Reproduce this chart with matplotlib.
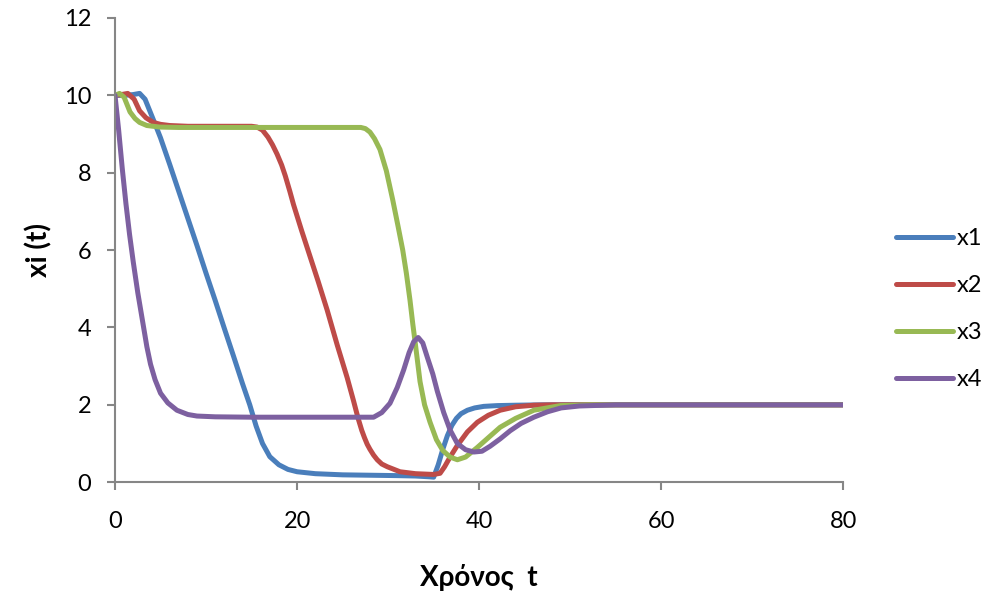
import matplotlib
matplotlib.use("Agg")
import matplotlib.pyplot as plt

plt.rcParams["font.family"] = ["Lato", "Noto Sans", "DejaVu Sans"]

# x1 (blue)
t1 = [0, 1, 2, 2.7, 3.3, 3.9, 4.5, 5, 6, 7, 8, 9, 10, 11, 12, 13, 14,
      14.8, 15.5, 16.2, 17, 18, 19, 20, 22, 25, 28, 31, 33, 34.5, 35,
      35.5, 36, 36.5, 37, 37.5, 38, 38.7, 39.5, 40.5, 42, 44, 47, 50,
      60, 70, 80]
x1 = [10, 10, 10.02, 10.05, 9.9, 9.55, 9.2, 8.9, 8.22, 7.52, 6.82, 6.12,
      5.4, 4.7, 3.98, 3.27, 2.55, 2.0, 1.45, 1.0, 0.66, 0.45, 0.33, 0.27,
      0.22, 0.19, 0.18, 0.17, 0.16, 0.14, 0.13, 0.45, 0.85, 1.2, 1.47,
      1.65, 1.77, 1.86, 1.92, 1.96, 1.98, 1.99, 2.0, 2.0, 2.0, 2.0, 2.0]

# x2 (red)
t2 = [0, 0.7, 1.4, 2.1, 2.7, 3.4, 4.2, 5, 6, 8, 10, 12, 14, 15, 15.6,
      16.2, 16.8, 17.3, 17.8, 18.3, 18.7, 19.2, 19.6, 20.5, 21.4, 22.3,
      23.3, 24.4, 25.5, 26.2, 26.7, 27.1, 27.4, 27.7, 28, 28.4, 28.8,
      29.3, 29.9, 31.3, 33, 35, 35.7, 36.2, 36.8, 37.6, 38.7, 39.8, 41,
      42.3, 44, 46, 48, 50, 55, 60, 70, 80]
x2 = [10, 10.02, 10.05, 9.9, 9.6, 9.42, 9.3, 9.25, 9.22, 9.2, 9.2, 9.2,
      9.2, 9.2, 9.18, 9.1, 8.92, 8.72, 8.48, 8.2, 7.92, 7.52, 7.18, 6.5,
      5.85, 5.2, 4.45, 3.55, 2.7, 2.1, 1.65, 1.34, 1.15, 0.98, 0.85,
      0.7, 0.58, 0.47, 0.4, 0.27, 0.22, 0.2, 0.23, 0.4, 0.65, 0.95, 1.3,
      1.55, 1.73, 1.86, 1.95, 1.99, 2.0, 2.0, 2.0, 2.0, 2.0, 2.0]

# x3 (green)
t3 = [0, 0.5, 1, 1.65, 2.2, 2.7, 3.5, 4.9, 7, 10, 15, 20, 25, 27, 27.5,
      28, 28.5, 29.1, 29.8, 30.5, 31.1, 31.6, 32.0, 32.4, 32.7, 33.0,
      33.5, 34, 34.6, 35.3, 36, 36.8, 37.6, 38.5, 39.8, 41, 42.3, 44, 46,
      48.9, 52, 60, 70, 80]
x3 = [10, 10.05, 9.95, 9.57, 9.4, 9.3, 9.22, 9.18, 9.17, 9.17, 9.17,
      9.17, 9.17, 9.17, 9.14, 9.05, 8.88, 8.6, 8.05, 7.3, 6.6, 6.0, 5.4,
      4.7, 4.1, 3.55, 2.6, 2.0, 1.55, 1.1, 0.82, 0.65, 0.58, 0.65, 0.9,
      1.15, 1.42, 1.65, 1.86, 1.98, 2.0, 2.0, 2.0, 2.0]

# x4 (purple)
t4 = [0, 0.4, 0.8, 1.2, 1.6, 2.0, 2.5, 3.0, 3.5, 3.9, 4.4, 5, 5.8, 6.8,
      8, 9, 11, 15, 20, 25, 28.4, 29.3, 30.2, 31, 31.7, 32.3, 32.8, 33.3,
      33.8, 34.3, 34.9, 35.4, 36.1, 36.8, 37.6, 38.5, 39.4, 40.3, 41.2,
      42.3, 43.4, 44.6, 46, 47.5, 49, 51, 55, 60, 70, 80]
x4 = [10, 9.1, 8.1, 7.2, 6.4, 5.7, 4.9, 4.2, 3.5, 3.05, 2.65, 2.3, 2.05,
      1.86, 1.75, 1.71, 1.69, 1.68, 1.68, 1.68, 1.68, 1.8, 2.04, 2.45,
      2.9, 3.35, 3.63, 3.74, 3.6, 3.23, 2.8, 2.35, 1.8, 1.35, 1.0, 0.84,
      0.78, 0.8, 0.93, 1.12, 1.33, 1.52, 1.68, 1.82, 1.92, 1.97, 2.0,
      2.0, 2.0, 2.0]

series = [
    ("x1", t1, x1, "#4A7EBB"),
    ("x2", t2, x2, "#BE4B48"),
    ("x3", t3, x3, "#98B954"),
    ("x4", t4, x4, "#7D60A0"),
]

fig = plt.figure(figsize=(9.83, 5.99), dpi=100)
ax = fig.add_axes([0.117, 0.195, 0.741, 0.775])

for name, t, x, color in series:
    ax.plot(t, x, color=color, linewidth=3.6, label=name,
            solid_capstyle="round", solid_joinstyle="round")

ax.set_xlim(0, 80)
ax.set_ylim(0, 12)
ax.set_xticks([0, 20, 40, 60, 80])
ax.set_yticks([0, 2, 4, 6, 8, 10, 12])

axis_color = "#868686"
for side in ("top", "right"):
    ax.spines[side].set_visible(False)
for side in ("left", "bottom"):
    ax.spines[side].set_color(axis_color)
    ax.spines[side].set_linewidth(1.5)
ax.tick_params(axis="both", direction="out", length=6, width=1.5,
               color=axis_color, labelsize=17, labelcolor="black")
ax.tick_params(axis="x", pad=15)
ax.tick_params(axis="y", pad=11)

ax.set_xlabel("Χρόνος  t", fontsize=20, fontweight="bold", labelpad=23)
ax.set_ylabel("xi (t)", fontsize=20, fontweight="bold", labelpad=8)

fig.legend(loc="center left", bbox_to_anchor=(0.912, 0.484),
           frameon=False, fontsize=17, handlelength=2.4,
           handletextpad=0.15, labelspacing=1.1, borderaxespad=0,
           borderpad=0)

fig.savefig("out.png", dpi=100)
